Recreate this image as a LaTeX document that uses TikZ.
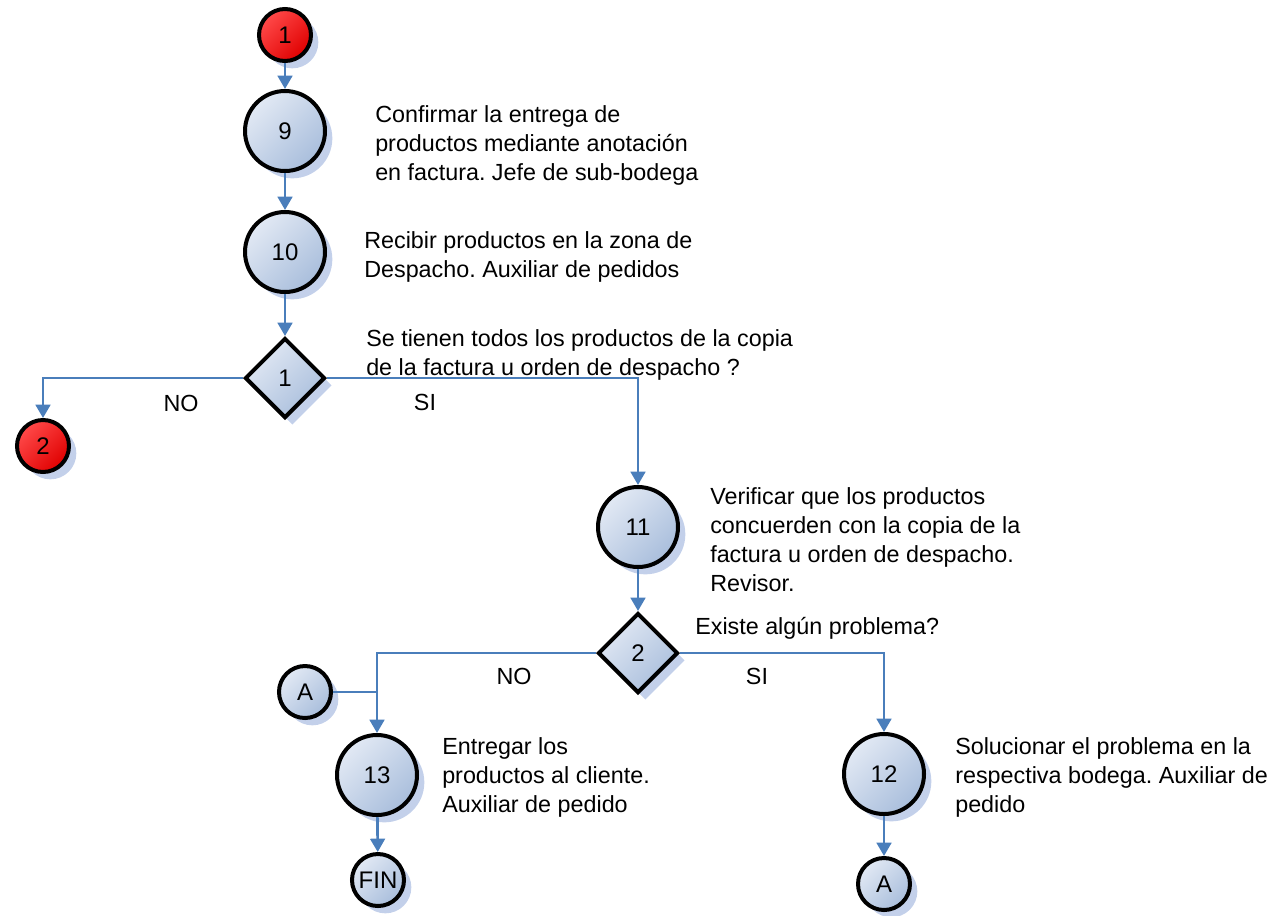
\documentclass[tikz,border=0pt]{standalone}
\usepackage{fontspec}
\setmainfont{Liberation Sans}
\usetikzlibrary{shapes.geometric,arrows.meta,shadows}
\frenchspacing

\definecolor{flowblue}{HTML}{4A7EBB}
\definecolor{nodelight}{HTML}{E2E9F4}
\definecolor{nodedark}{HTML}{A9BEDC}
\definecolor{redlight}{HTML}{FF4A4A}
\definecolor{reddark}{HTML}{E00000}
\definecolor{shadowblue}{HTML}{C3D0EA}

\tikzset{
  softshadow/.style={drop shadow={shadow xshift=5.5pt, shadow yshift=-5.5pt,
      fill=shadowblue, opacity=1}},
  shapebase/.style={draw=black, line width=3pt, inner sep=0pt, softshadow,
      font=\fontsize{18}{21}\selectfont},
  bluefill/.style={top color=nodelight, bottom color=nodedark, shading angle=45},
  redfill/.style={top color=redlight, bottom color=reddark, shading angle=45},
  proc/.style={shapebase, circle, bluefill, minimum size=60pt},
  conn/.style={shapebase, circle, bluefill, minimum size=39pt},
  terminal/.style={shapebase, circle, redfill, minimum size=39pt},
  decision/.style={shapebase, diamond, bluefill, minimum width=60pt,
      minimum height=60pt, shape aspect=1},
  flow/.style={draw=flowblue, line width=2pt,
      -{Triangle[width=11pt,length=10pt]}},
  plainflow/.style={draw=flowblue, line width=2pt},
  % multi-line notes are placed by the baseline of their last line
  note/.style={anchor=base west, align=left, inner sep=0pt,
      font=\fontsize{17.5}{21.75}\selectfont},
  branch/.style={anchor=base, inner sep=0pt,
      font=\fontsize{17.5}{21.75}\selectfont}
}

\begin{document}
\begin{tikzpicture}[x=0.75pt, y=-0.75pt]
  \useasboundingbox (0,0) rectangle (1281,915);

  % shapes of the flow
  \node[terminal] (s1)  at (285,35)  {1};
  \node[proc]     (p9)  at (285,131) {9};
  \node[proc]     (p10) at (285,252) {10};
  \node[decision] (d1)  at (285,378) {1};
  \node[terminal] (s2)  at (43,446)  {2};
  \node[proc]     (p11) at (638,527) {11};
  \node[decision] (d2)  at (638,653) {2};
  \node[conn]     (aL)  at (305,692) {A};
  \node[proc]     (p13) at (377,775) {13};
  \node[conn]     (fin) at (378,880) {FIN};
  \node[proc]     (p12) at (884,774) {12};
  \node[conn]     (aR)  at (884,884) {A};

  % connectors
  \draw[flow] (s1) -- (p9);
  \draw[flow] (p9) -- (p10);
  \draw[flow] (p10) -- (d1);
  \draw[flow] (d1.west) -| (s2);
  \draw[flow] (d1.east) -| (p11);
  \draw[flow] (p11) -- (d2);
  \draw[flow] (d2.west) -| (p13);
  \draw[plainflow] (aL.east) -- (aL.east -| p13);
  \draw[flow] (d2.east) -| (p12);
  \draw[flow] (p13) -- (fin);
  \draw[flow] (p12) -- (aR);

  % descriptions
  \node[note] (t9) at (375,180)
    {Confirmar la entrega de\\productos mediante anotación\\en factura. Jefe de sub-bodega};
  \node[note] (t10) at (364,277)
    {Recibir productos en la zona de\\Despacho. Auxiliar de pedidos};
  \node[note] (td1) at (366,375)
    {Se tienen todos los productos de la copia\\de la factura u orden de despacho ?};
  \node[note] (t11) at (710,591)
    {Verificar que los productos\\concuerden con la copia de la\\factura u orden de despacho.\\Revisor.};
  \node[note] (td2) at (695,634) {Existe algún problema?};
  \node[note] (t13) at (442,812)
    {Entregar los\\productos al cliente.\\Auxiliar de pedido};
  \node[note] (t12) at (955,812)
    {Solucionar el problema en la\\respectiva bodega. Auxiliar de\\pedido};

  % branch labels
  \node[branch] (no1) at (181,411) {NO};
  \node[branch] (si1) at (425,410) {SI};
  \node[branch] (no2) at (514,684) {NO};
  \node[branch] (si2) at (757,684) {SI};
\end{tikzpicture}
\end{document}
